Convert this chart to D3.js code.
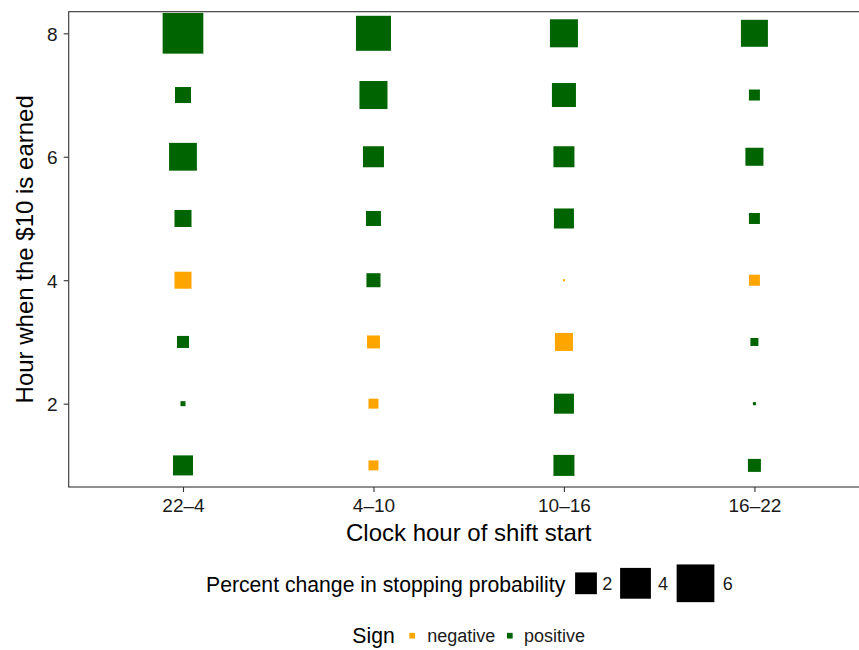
<!DOCTYPE html>
<html>
<head>
<meta charset="utf-8">
<script src="https://cdn.jsdelivr.net/npm/d3@7"></script>
<style>
  html, body { margin: 0; padding: 0; background: #fff; }
  svg { display: block; font-family: "Liberation Sans", Arial, Helvetica, sans-serif; }
</style>
</head>
<body>
<svg id="chart" width="859" height="650"></svg>
<script>
// Clock hour at which the shift started (x categories)
const shiftStarts = ["22\u20134", "4\u201310", "10\u201316", "16\u201322"];
// Hour of the shift in which the $10 was earned (y values)
const hours = [1, 2, 3, 4, 5, 6, 7, 8];
// Percent change in stopping probability, one value per hour (1..8), signed
const change22to4  = [1.69, 0.105, 0.61, -1.22, 1.22, 3.26, 1.08, 6.98];
const change4to10  = [-0.42, -0.42, -0.71, 0.83, 0.95, 1.86, 3.31, 5.17];
const change10to16 = [1.86, 1.69, -1.37, -0.017, 1.69, 1.86, 2.43, 3.31];
const change16to22 = [0.71, 0.04, 0.27, -0.51, 0.51, 1.37, 0.51, 3.07];
const seriesByShift = [change22to4, change4to10, change10to16, change16to22];
// Axis and legend labels
const yTicks = [2, 4, 6, 8];
const sizeBreaks = [2, 4, 6];
const signLevels = ["negative", "positive"];
const signColors = ["#FFA500", "#006400"];

const cells = [];
shiftStarts.forEach((s, i) => {
  hours.forEach((h, j) => {
    const v = seriesByShift[i][j];
    cells.push({ shift: s, hour: h, value: v, sign: v < 0 ? "negative" : "positive" });
  });
});

const svg = d3.select("#chart");
const panel = { left: 68.7, top: 11.7, right: 868.7, bottom: 487 };

const x = d3.scalePoint().domain(shiftStarts).range([panel.left, panel.right]).padding(0.6);
const y = d3.scaleLinear().domain([0.65, 8.35]).range([panel.bottom, panel.top]);
// Square side grows with the square root of the magnitude (area ~ value)
const side = d3.scaleSqrt().domain([0, 10]).range([0, 15.4 * Math.sqrt(10)]);
const color = d3.scaleOrdinal().domain(signLevels).range(signColors);

// Squares: side length by magnitude, colour by sign
svg.append("g").selectAll("rect").data(cells).join("rect")
  .attr("x", d => x(d.shift) - side(Math.abs(d.value)) / 2)
  .attr("y", d => y(d.hour) - side(Math.abs(d.value)) / 2)
  .attr("width", d => side(Math.abs(d.value)))
  .attr("height", d => side(Math.abs(d.value)))
  .attr("fill", d => color(d.sign));

// Panel border
svg.append("rect")
  .attr("x", panel.left).attr("y", panel.top)
  .attr("width", panel.right - panel.left).attr("height", panel.bottom - panel.top)
  .attr("fill", "none").attr("stroke", "#333").attr("stroke-width", 1.1);

// Axes
const xAxis = svg.append("g").attr("transform", `translate(0,${panel.bottom})`)
  .call(d3.axisBottom(x).tickSize(5).tickPadding(5));
const yAxis = svg.append("g").attr("transform", `translate(${panel.left},0)`)
  .call(d3.axisLeft(y).tickValues(yTicks).tickSize(5).tickPadding(6));
[xAxis, yAxis].forEach(g => {
  g.select(".domain").remove();
  g.selectAll(".tick line").attr("stroke", "#333").attr("stroke-width", 1.1);
  g.selectAll(".tick text").attr("fill", "#1a1a1a").style("font-size", "19px")
    .style("font-family", "'Liberation Sans', Arial, sans-serif");
});
xAxis.selectAll(".tick text").attr("dy", null).attr("y", 25);
yAxis.selectAll(".tick text").attr("dy", "0.36em");

// Axis titles
svg.append("text")
  .attr("x", (panel.left + panel.right) / 2).attr("y", 541)
  .attr("text-anchor", "middle").style("font-size", "24px").attr("fill", "#000")
  .text("Clock hour of shift start");
svg.append("text")
  .attr("transform", `translate(33,${(panel.top + panel.bottom) / 2}) rotate(-90)`)
  .attr("text-anchor", "middle").style("font-size", "24px").attr("fill", "#000")
  .text("Hour when the $10 is earned");

// Size legend
const sizeLegend = svg.append("g");
sizeLegend.append("text").attr("x", 206).attr("y", 591.7)
  .style("font-size", "21.2px").attr("fill", "#000").text("Percent change in stopping probability");
const sizeKeyX = [586, 635.5, 695.5];
const sizeLabelX = [602.3, 658, 722.7];
const legendCy = 583.3;
sizeBreaks.forEach((b, i) => {
  sizeLegend.append("rect")
    .attr("x", sizeKeyX[i] - side(b) / 2).attr("y", legendCy - side(b) / 2)
    .attr("width", side(b)).attr("height", side(b)).attr("fill", "#000");
  sizeLegend.append("text").attr("x", sizeLabelX[i]).attr("y", legendCy).attr("dy", "0.36em")
    .style("font-size", "18px").attr("fill", "#1a1a1a").text(b);
});

// Sign legend
const signLegend = svg.append("g");
signLegend.append("text").attr("x", 352.3).attr("y", 643.3)
  .style("font-size", "21.2px").attr("fill", "#000").text("Sign");
const signKeyX = [412.2, 509.8];
const signLabelX = [427.3, 524];
const signCy = 635.7;
signLevels.forEach((lvl, i) => {
  signLegend.append("rect")
    .attr("x", signKeyX[i] - 2.85).attr("y", signCy - 2.85)
    .attr("width", 5.7).attr("height", 5.7).attr("fill", color(lvl));
  signLegend.append("text").attr("x", signLabelX[i]).attr("y", signCy).attr("dy", "0.36em")
    .style("font-size", "18px").attr("fill", "#1a1a1a").text(lvl);
});
</script>
</body>
</html>
